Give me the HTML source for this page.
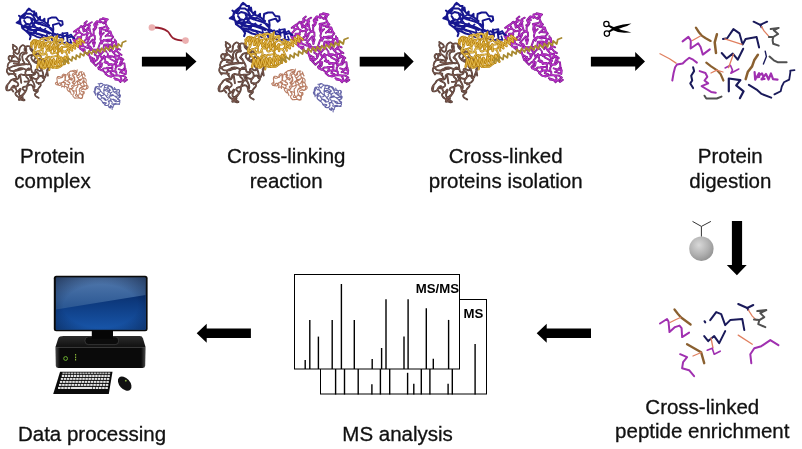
<!DOCTYPE html>
<html><head><meta charset="utf-8"><title>Cross-linking MS workflow</title>
<style>html,body{margin:0;padding:0;background:#fff;}body{width:802px;height:449px;overflow:hidden;font-family:"Liberation Sans",sans-serif;}body{position:relative;}svg{display:block;position:absolute;left:0;top:0;}svg{will-change:transform;}</style>
</head><body>
<svg width="802" height="449" viewBox="0 0 802 449">
<defs>
<g id="mc"><g fill="none" stroke-linejoin="round" stroke-linecap="round">
<path d="M226.3,92.6 C225.6,91.2 223.4,90.1 224.3,88.5 C225.2,86.9 226.6,89.3 229.0,87.7 C231.4,86.2 232.4,86.4 231.5,83.9 C230.7,81.3 226.5,81.8 226.4,80.1 C226.3,78.5 228.9,80.8 231.2,78.9 C233.4,77.1 230.7,76.0 233.1,74.6 C235.4,73.2 234.6,74.7 238.2,74.7 C241.7,74.8 240.0,75.1 243.8,74.7 C247.7,74.3 247.5,75.6 249.8,73.6 C252.0,71.6 248.7,69.9 250.6,68.8 C252.5,67.6 253.5,71.3 255.6,70.2 C257.6,69.2 257.6,68.1 256.7,65.5 C255.9,62.9 255.7,64.4 253.1,62.5 C250.5,60.7 250.0,62.4 249.0,59.9 C248.0,57.4 251.1,57.3 250.1,55.0 C249.1,52.6 248.9,52.4 245.9,52.9 C242.9,53.3 242.1,53.8 241.1,56.3 C240.2,58.9 241.6,57.0 243.1,60.6 C244.6,64.1 246.1,64.2 245.6,67.0 C245.1,69.8 245.2,68.9 241.6,69.1 C238.0,69.2 238.5,67.5 234.7,67.4 C230.9,67.3 233.2,67.7 230.2,68.8 C227.2,69.8 228.5,70.6 225.6,70.4 C222.8,70.2 223.4,70.5 221.7,68.2 C219.9,66.0 219.5,66.9 220.4,63.7 C221.2,60.5 222.6,61.8 224.2,58.6 C225.9,55.4 223.2,54.7 225.4,54.0 C227.6,53.3 228.6,54.0 230.8,56.6 C233.0,59.2 233.2,60.1 232.0,61.9 C230.8,63.7 225.4,61.7 227.1,62.0 C228.8,62.3 234.1,64.1 237.1,62.7 C240.2,61.3 236.6,61.0 236.3,57.8 C236.1,54.5 235.3,55.5 236.5,53.0 C237.7,50.5 239.1,53.3 239.9,50.3 C240.8,47.2 241.0,45.9 239.0,43.9 C237.0,41.9 236.5,41.7 234.0,44.2 C231.5,46.8 234.0,50.6 231.5,51.6 C229.0,52.7 228.3,50.3 226.5,47.4 C224.7,44.5 226.3,44.4 226.2,43.0 M244.3,44.0 C246.0,46.0 246.1,47.0 249.6,50.0 C253.1,53.0 252.2,50.0 254.8,53.0 C257.4,56.0 255.1,56.0 257.4,59.0 C259.7,62.1 259.5,59.3 261.7,62.1 C263.8,64.8 263.7,63.7 263.9,67.3 C264.0,70.8 263.5,69.2 262.1,72.8 C260.6,76.4 261.8,77.1 259.6,78.0 C257.4,79.0 258.4,74.5 255.6,75.7 C252.8,77.0 251.1,79.0 251.1,81.8 C251.2,84.5 254.6,81.9 255.6,84.0 C256.7,86.2 256.3,85.6 254.2,88.2 C252.1,90.8 252.0,92.7 249.3,91.9 C246.7,91.0 249.3,87.4 246.3,85.7 C243.3,84.1 243.7,85.9 240.3,87.0 C237.0,88.0 236.9,87.0 236.3,89.0 C235.7,91.0 238.8,90.4 238.6,93.0 C238.3,95.6 237.6,94.3 235.6,96.7 C233.6,99.1 231.6,98.6 232.5,100.2 C233.4,101.8 239.4,102.9 238.3,101.6 C237.1,100.3 231.2,99.7 229.1,96.4 C226.9,93.1 230.9,93.4 231.9,91.8 M238.4,81.9 C239.9,81.7 239.9,82.4 243.1,81.2 C246.2,80.1 246.3,79.3 247.9,78.3 M228.8,73.8 221.6,73.1 M220.1,85.1 219.4,89.5 M235.9,68.5 C234.2,69.0 233.9,68.6 230.9,69.8 C227.9,71.0 227.2,69.5 226.8,72.3 C226.4,75.0 230.1,75.5 229.6,77.9 C229.1,80.3 227.8,77.9 225.3,79.5 C222.7,81.1 224.2,79.6 222.0,82.7 C219.8,85.7 218.5,85.8 218.5,88.6 C218.6,91.4 219.4,91.9 222.2,91.1 C225.1,90.3 224.4,85.9 227.1,86.2 C229.8,86.5 228.0,90.8 230.3,92.0 C232.6,93.2 233.3,88.5 234.1,89.8 C234.8,91.0 231.8,92.9 232.6,95.9 C233.4,98.9 236.6,97.0 236.5,98.7 C236.4,100.4 231.5,102.9 232.4,101.1 C233.3,99.2 236.3,98.2 239.2,93.2 C242.1,88.2 240.0,90.4 241.2,86.1 C242.5,81.8 243.5,84.0 243.0,80.4 C242.5,76.8 240.6,79.0 239.8,75.3 C239.0,71.6 238.9,71.7 240.7,69.4 C242.4,67.0 242.8,67.2 245.0,68.2 C247.2,69.1 245.0,71.2 247.3,72.2 C249.5,73.3 249.7,69.9 251.7,71.3 C253.8,72.8 254.2,74.1 253.5,76.6 C252.8,79.1 252.7,79.1 249.6,78.8 C246.5,78.5 244.4,73.6 244.2,75.8 C244.0,77.9 247.6,80.5 249.0,85.3 C250.4,90.1 247.1,87.9 248.4,90.1 C249.7,92.2 252.5,89.7 252.9,91.7 C253.3,93.7 249.3,93.4 249.6,96.0 C249.9,98.6 252.4,98.3 253.7,99.4 M253.6,84.4 C255.5,83.1 257.6,83.5 259.3,80.5 C261.0,77.5 259.4,78.7 258.8,75.3 C258.2,71.9 258.8,73.6 257.5,70.2 C256.3,66.8 254.0,67.2 255.0,65.2 C256.1,63.2 257.3,64.2 260.6,64.2 C263.9,64.1 264.6,66.4 265.0,65.0 C265.3,63.5 264.8,62.5 261.7,59.8 C258.6,57.1 259.1,56.8 255.6,56.9 C252.1,57.0 254.1,59.7 251.2,60.2 C248.2,60.7 248.3,60.5 246.8,58.4 C245.3,56.3 245.3,56.0 246.7,54.0 C248.1,52.0 251.4,54.4 251.1,52.4 C250.7,50.5 248.1,51.1 245.6,48.1 C243.1,45.2 245.9,44.2 243.5,43.6 C241.0,43.0 239.1,43.9 238.3,46.4 C237.4,48.9 241.6,49.8 240.9,51.1 C240.1,52.5 238.6,49.4 236.1,50.4 C233.5,51.5 234.2,51.3 233.1,54.4 C232.1,57.4 235.0,57.7 232.9,59.5 C230.9,61.3 230.5,60.0 227.0,59.8 C223.5,59.6 224.0,60.9 222.4,59.0 C220.8,57.2 220.6,55.5 222.2,54.2 C223.7,52.9 225.5,56.7 227.0,55.1 C228.5,53.6 225.6,52.6 226.7,49.6 C227.8,46.5 230.7,48.5 230.4,46.0 C230.1,43.4 227.3,43.3 225.7,42.0 M240.0,57.4 C241.2,59.0 243.9,60.3 243.4,62.3 C242.9,64.2 242.1,62.6 238.6,63.2 C235.1,63.8 236.5,63.4 232.9,64.0 C229.4,64.5 231.2,64.0 228.0,64.8 C224.9,65.6 226.4,65.0 223.5,66.5 C220.5,67.9 219.9,66.6 219.3,69.2 C218.6,71.9 220.7,72.7 221.5,74.4 M233.6,74.6 234.9,83.2 M262.7,69.3 263.7,75.5 " stroke="#4e3a32" stroke-width="1.9"/>
<path d="M226.3,92.6 C225.6,91.2 223.4,90.1 224.3,88.5 C225.2,86.9 226.6,89.3 229.0,87.7 C231.4,86.2 232.4,86.4 231.5,83.9 C230.7,81.3 226.5,81.8 226.4,80.1 C226.3,78.5 228.9,80.8 231.2,78.9 C233.4,77.1 230.7,76.0 233.1,74.6 C235.4,73.2 234.6,74.7 238.2,74.7 C241.7,74.8 240.0,75.1 243.8,74.7 C247.7,74.3 247.5,75.6 249.8,73.6 C252.0,71.6 248.7,69.9 250.6,68.8 C252.5,67.6 253.5,71.3 255.6,70.2 C257.6,69.2 257.6,68.1 256.7,65.5 C255.9,62.9 255.7,64.4 253.1,62.5 C250.5,60.7 250.0,62.4 249.0,59.9 C248.0,57.4 251.1,57.3 250.1,55.0 C249.1,52.6 248.9,52.4 245.9,52.9 C242.9,53.3 242.1,53.8 241.1,56.3 C240.2,58.9 241.6,57.0 243.1,60.6 C244.6,64.1 246.1,64.2 245.6,67.0 C245.1,69.8 245.2,68.9 241.6,69.1 C238.0,69.2 238.5,67.5 234.7,67.4 C230.9,67.3 233.2,67.7 230.2,68.8 C227.2,69.8 228.5,70.6 225.6,70.4 C222.8,70.2 223.4,70.5 221.7,68.2 C219.9,66.0 219.5,66.9 220.4,63.7 C221.2,60.5 222.6,61.8 224.2,58.6 C225.9,55.4 223.2,54.7 225.4,54.0 C227.6,53.3 228.6,54.0 230.8,56.6 C233.0,59.2 233.2,60.1 232.0,61.9 C230.8,63.7 225.4,61.7 227.1,62.0 C228.8,62.3 234.1,64.1 237.1,62.7 C240.2,61.3 236.6,61.0 236.3,57.8 C236.1,54.5 235.3,55.5 236.5,53.0 C237.7,50.5 239.1,53.3 239.9,50.3 C240.8,47.2 241.0,45.9 239.0,43.9 C237.0,41.9 236.5,41.7 234.0,44.2 C231.5,46.8 234.0,50.6 231.5,51.6 C229.0,52.7 228.3,50.3 226.5,47.4 C224.7,44.5 226.3,44.4 226.2,43.0 M244.3,44.0 C246.0,46.0 246.1,47.0 249.6,50.0 C253.1,53.0 252.2,50.0 254.8,53.0 C257.4,56.0 255.1,56.0 257.4,59.0 C259.7,62.1 259.5,59.3 261.7,62.1 C263.8,64.8 263.7,63.7 263.9,67.3 C264.0,70.8 263.5,69.2 262.1,72.8 C260.6,76.4 261.8,77.1 259.6,78.0 C257.4,79.0 258.4,74.5 255.6,75.7 C252.8,77.0 251.1,79.0 251.1,81.8 C251.2,84.5 254.6,81.9 255.6,84.0 C256.7,86.2 256.3,85.6 254.2,88.2 C252.1,90.8 252.0,92.7 249.3,91.9 C246.7,91.0 249.3,87.4 246.3,85.7 C243.3,84.1 243.7,85.9 240.3,87.0 C237.0,88.0 236.9,87.0 236.3,89.0 C235.7,91.0 238.8,90.4 238.6,93.0 C238.3,95.6 237.6,94.3 235.6,96.7 C233.6,99.1 231.6,98.6 232.5,100.2 C233.4,101.8 239.4,102.9 238.3,101.6 C237.1,100.3 231.2,99.7 229.1,96.4 C226.9,93.1 230.9,93.4 231.9,91.8 M238.4,81.9 C239.9,81.7 239.9,82.4 243.1,81.2 C246.2,80.1 246.3,79.3 247.9,78.3 M228.8,73.8 221.6,73.1 M220.1,85.1 219.4,89.5 M235.9,68.5 C234.2,69.0 233.9,68.6 230.9,69.8 C227.9,71.0 227.2,69.5 226.8,72.3 C226.4,75.0 230.1,75.5 229.6,77.9 C229.1,80.3 227.8,77.9 225.3,79.5 C222.7,81.1 224.2,79.6 222.0,82.7 C219.8,85.7 218.5,85.8 218.5,88.6 C218.6,91.4 219.4,91.9 222.2,91.1 C225.1,90.3 224.4,85.9 227.1,86.2 C229.8,86.5 228.0,90.8 230.3,92.0 C232.6,93.2 233.3,88.5 234.1,89.8 C234.8,91.0 231.8,92.9 232.6,95.9 C233.4,98.9 236.6,97.0 236.5,98.7 C236.4,100.4 231.5,102.9 232.4,101.1 C233.3,99.2 236.3,98.2 239.2,93.2 C242.1,88.2 240.0,90.4 241.2,86.1 C242.5,81.8 243.5,84.0 243.0,80.4 C242.5,76.8 240.6,79.0 239.8,75.3 C239.0,71.6 238.9,71.7 240.7,69.4 C242.4,67.0 242.8,67.2 245.0,68.2 C247.2,69.1 245.0,71.2 247.3,72.2 C249.5,73.3 249.7,69.9 251.7,71.3 C253.8,72.8 254.2,74.1 253.5,76.6 C252.8,79.1 252.7,79.1 249.6,78.8 C246.5,78.5 244.4,73.6 244.2,75.8 C244.0,77.9 247.6,80.5 249.0,85.3 C250.4,90.1 247.1,87.9 248.4,90.1 C249.7,92.2 252.5,89.7 252.9,91.7 C253.3,93.7 249.3,93.4 249.6,96.0 C249.9,98.6 252.4,98.3 253.7,99.4 M253.6,84.4 C255.5,83.1 257.6,83.5 259.3,80.5 C261.0,77.5 259.4,78.7 258.8,75.3 C258.2,71.9 258.8,73.6 257.5,70.2 C256.3,66.8 254.0,67.2 255.0,65.2 C256.1,63.2 257.3,64.2 260.6,64.2 C263.9,64.1 264.6,66.4 265.0,65.0 C265.3,63.5 264.8,62.5 261.7,59.8 C258.6,57.1 259.1,56.8 255.6,56.9 C252.1,57.0 254.1,59.7 251.2,60.2 C248.2,60.7 248.3,60.5 246.8,58.4 C245.3,56.3 245.3,56.0 246.7,54.0 C248.1,52.0 251.4,54.4 251.1,52.4 C250.7,50.5 248.1,51.1 245.6,48.1 C243.1,45.2 245.9,44.2 243.5,43.6 C241.0,43.0 239.1,43.9 238.3,46.4 C237.4,48.9 241.6,49.8 240.9,51.1 C240.1,52.5 238.6,49.4 236.1,50.4 C233.5,51.5 234.2,51.3 233.1,54.4 C232.1,57.4 235.0,57.7 232.9,59.5 C230.9,61.3 230.5,60.0 227.0,59.8 C223.5,59.6 224.0,60.9 222.4,59.0 C220.8,57.2 220.6,55.5 222.2,54.2 C223.7,52.9 225.5,56.7 227.0,55.1 C228.5,53.6 225.6,52.6 226.7,49.6 C227.8,46.5 230.7,48.5 230.4,46.0 C230.1,43.4 227.3,43.3 225.7,42.0 M240.0,57.4 C241.2,59.0 243.9,60.3 243.4,62.3 C242.9,64.2 242.1,62.6 238.6,63.2 C235.1,63.8 236.5,63.4 232.9,64.0 C229.4,64.5 231.2,64.0 228.0,64.8 C224.9,65.6 226.4,65.0 223.5,66.5 C220.5,67.9 219.9,66.6 219.3,69.2 C218.6,71.9 220.7,72.7 221.5,74.4 M233.6,74.6 234.9,83.2 M262.7,69.3 263.7,75.5 " stroke="#94685e" stroke-width="0.6"/>
<path d="M341.6,47.3 337.5,45.4 338.2,48.8 334.0,50.0 336.3,52.8 336.5,56.1 333.5,54.6 329.2,54.1 325.8,55.4 322.6,57.3 319.9,60.6 320.3,64.5 317.9,67.0 321.3,69.7 324.1,67.6 329.2,67.4 328.1,71.0 325.7,73.3 328.6,75.6 332.1,76.6 334.5,74.3 331.3,73.2 333.2,69.7 333.5,66.4 333.0,63.1 329.2,63.9 328.2,60.8 324.8,61.1 M331.1,57.4 334.9,59.3 337.7,61.4 336.8,64.7 341.0,64.3 342.4,60.1 345.3,58.0 342.2,55.9 339.4,58.1 341.1,52.3 M330.7,49.1 329.5,45.4 326.5,43.6 329.5,41.6 332.5,43.9 333.8,40.5 332.0,37.4 328.0,38.5 323.9,36.8 322.0,40.8 320.4,35.7 321.5,31.7 321.3,27.9 319.4,24.1 323.7,23.3 326.8,22.0 329.4,24.5 326.1,27.0 331.3,27.5 332.9,32.4 327.6,32.1 M335.9,36.3 337.5,41.9 M327.0,49.7 324.2,46.3 323.3,49.7 321.1,52.3 318.0,50.4 320.2,47.0 316.2,47.3 312.5,47.3 309.2,47.8 309.5,44.1 306.5,42.7 309.1,39.8 312.2,36.3 314.6,39.6 313.2,43.9 M314.2,52.7 318.4,55.3 316.9,58.3 314.1,60.5 313.6,57.1 310.6,60.0 308.5,53.8 303.7,50.2 303.3,46.8 298.8,46.6 297.2,43.6 301.7,43.6 301.0,40.4 298.3,37.5 299.8,34.4 296.2,34.1 294.2,36.8 290.9,35.8 293.8,40.4 M303.4,37.4 306.3,35.6 309.9,32.6 313.2,31.1 313.1,27.0 315.5,24.4 313.6,20.6 317.3,20.3 316.3,16.9 320.7,16.6 323.9,19.0 325.5,16.0 328.5,14.5 323.1,13.3 M311.2,17.7 308.2,19.3 308.5,23.0 309.1,26.5 305.7,25.4 302.3,27.7 301.6,24.4 299.7,21.7 296.8,24.8 293.8,26.4 294.7,30.1 297.6,28.4 302.5,31.4 307.7,29.8 M304.1,21.9 303.2,18.7 305.8,16.6 M337.7,71.5 337.9,75.0 341.3,75.4 343.1,78.6 342.2,82.3 339.9,79.8 335.4,78.2 M343.6,72.4 347.8,73.9 348.2,70.2 344.7,69.2 346.9,66.6 346.4,62.2 M349.3,79.9 346.4,81.9 M325.9,32.8 328.5,30.5 330.6,27.9 332.1,30.8 334.3,33.7 331.9,36.4 328.6,36.6 323.5,37.5 320.1,40.1 318.6,44.3 317.4,48.0 314.0,50.6 311.8,47.9 310.1,44.6 306.9,45.7 303.2,44.1 299.5,42.4 295.9,43.4 299.2,46.5 301.9,48.7 304.5,50.9 307.9,51.1 308.9,54.7 311.8,56.3 314.5,58.9 311.3,60.3 315.5,64.7 318.3,61.9 322.2,62.3 321.6,65.6 318.6,68.4 323.3,70.1 326.1,72.5 329.3,70.6 333.2,70.2 336.8,71.2 336.7,67.7 338.7,64.8 342.2,64.4 344.5,61.8 342.7,57.9 339.9,54.2 336.6,53.3 337.0,57.2 338.5,60.9 334.2,63.6 330.2,62.7 326.3,61.7 325.4,57.2 324.6,53.9 321.9,56.7 320.0,52.3 316.7,56.1 M324.0,49.4 323.8,45.3 324.5,41.8 328.2,41.6 328.4,45.8 331.3,43.2 333.0,39.9 337.2,38.0 338.1,42.1 335.0,43.5 332.1,47.2 334.1,50.5 337.5,47.6 340.0,50.7 343.4,53.1 M332.2,55.2 329.0,55.9 328.3,51.3 M331.9,67.1 327.5,66.9 M328.7,75.7 332.5,76.3 337.4,75.0 342.0,75.6 345.4,75.6 348.3,77.6 344.7,80.8 340.6,80.2 336.5,79.6 M341.6,72.1 344.6,69.8 340.2,68.4 M347.5,67.8 347.9,73.0 M313.7,43.5 312.3,39.9 314.5,36.1 314.3,32.3 310.3,30.6 308.9,26.3 306.2,24.3 309.2,21.2 304.8,20.1 301.9,21.9 303.0,25.2 306.8,29.2 305.2,34.7 308.7,34.8 306.1,39.9 302.1,39.2 298.3,39.2 293.2,38.8 291.8,33.5 295.2,29.6 298.1,28.1 296.2,24.6 291.7,27.9 M295.5,33.7 299.3,33.8 300.9,30.4 M312.7,25.2 316.2,22.8 313.8,19.8 316.7,16.4 320.1,17.9 320.0,14.5 323.3,14.0 327.5,14.7 325.9,19.0 327.4,21.9 328.2,25.3 323.6,25.7 320.3,24.7 319.7,29.4 320.7,32.5 324.2,29.1 " stroke="#801890" stroke-width="2.0"/>
<path d="M341.6,47.3 337.5,45.4 338.2,48.8 334.0,50.0 336.3,52.8 336.5,56.1 333.5,54.6 329.2,54.1 325.8,55.4 322.6,57.3 319.9,60.6 320.3,64.5 317.9,67.0 321.3,69.7 324.1,67.6 329.2,67.4 328.1,71.0 325.7,73.3 328.6,75.6 332.1,76.6 334.5,74.3 331.3,73.2 333.2,69.7 333.5,66.4 333.0,63.1 329.2,63.9 328.2,60.8 324.8,61.1 M331.1,57.4 334.9,59.3 337.7,61.4 336.8,64.7 341.0,64.3 342.4,60.1 345.3,58.0 342.2,55.9 339.4,58.1 341.1,52.3 M330.7,49.1 329.5,45.4 326.5,43.6 329.5,41.6 332.5,43.9 333.8,40.5 332.0,37.4 328.0,38.5 323.9,36.8 322.0,40.8 320.4,35.7 321.5,31.7 321.3,27.9 319.4,24.1 323.7,23.3 326.8,22.0 329.4,24.5 326.1,27.0 331.3,27.5 332.9,32.4 327.6,32.1 M335.9,36.3 337.5,41.9 M327.0,49.7 324.2,46.3 323.3,49.7 321.1,52.3 318.0,50.4 320.2,47.0 316.2,47.3 312.5,47.3 309.2,47.8 309.5,44.1 306.5,42.7 309.1,39.8 312.2,36.3 314.6,39.6 313.2,43.9 M314.2,52.7 318.4,55.3 316.9,58.3 314.1,60.5 313.6,57.1 310.6,60.0 308.5,53.8 303.7,50.2 303.3,46.8 298.8,46.6 297.2,43.6 301.7,43.6 301.0,40.4 298.3,37.5 299.8,34.4 296.2,34.1 294.2,36.8 290.9,35.8 293.8,40.4 M303.4,37.4 306.3,35.6 309.9,32.6 313.2,31.1 313.1,27.0 315.5,24.4 313.6,20.6 317.3,20.3 316.3,16.9 320.7,16.6 323.9,19.0 325.5,16.0 328.5,14.5 323.1,13.3 M311.2,17.7 308.2,19.3 308.5,23.0 309.1,26.5 305.7,25.4 302.3,27.7 301.6,24.4 299.7,21.7 296.8,24.8 293.8,26.4 294.7,30.1 297.6,28.4 302.5,31.4 307.7,29.8 M304.1,21.9 303.2,18.7 305.8,16.6 M337.7,71.5 337.9,75.0 341.3,75.4 343.1,78.6 342.2,82.3 339.9,79.8 335.4,78.2 M343.6,72.4 347.8,73.9 348.2,70.2 344.7,69.2 346.9,66.6 346.4,62.2 M349.3,79.9 346.4,81.9 M325.9,32.8 328.5,30.5 330.6,27.9 332.1,30.8 334.3,33.7 331.9,36.4 328.6,36.6 323.5,37.5 320.1,40.1 318.6,44.3 317.4,48.0 314.0,50.6 311.8,47.9 310.1,44.6 306.9,45.7 303.2,44.1 299.5,42.4 295.9,43.4 299.2,46.5 301.9,48.7 304.5,50.9 307.9,51.1 308.9,54.7 311.8,56.3 314.5,58.9 311.3,60.3 315.5,64.7 318.3,61.9 322.2,62.3 321.6,65.6 318.6,68.4 323.3,70.1 326.1,72.5 329.3,70.6 333.2,70.2 336.8,71.2 336.7,67.7 338.7,64.8 342.2,64.4 344.5,61.8 342.7,57.9 339.9,54.2 336.6,53.3 337.0,57.2 338.5,60.9 334.2,63.6 330.2,62.7 326.3,61.7 325.4,57.2 324.6,53.9 321.9,56.7 320.0,52.3 316.7,56.1 M324.0,49.4 323.8,45.3 324.5,41.8 328.2,41.6 328.4,45.8 331.3,43.2 333.0,39.9 337.2,38.0 338.1,42.1 335.0,43.5 332.1,47.2 334.1,50.5 337.5,47.6 340.0,50.7 343.4,53.1 M332.2,55.2 329.0,55.9 328.3,51.3 M331.9,67.1 327.5,66.9 M328.7,75.7 332.5,76.3 337.4,75.0 342.0,75.6 345.4,75.6 348.3,77.6 344.7,80.8 340.6,80.2 336.5,79.6 M341.6,72.1 344.6,69.8 340.2,68.4 M347.5,67.8 347.9,73.0 M313.7,43.5 312.3,39.9 314.5,36.1 314.3,32.3 310.3,30.6 308.9,26.3 306.2,24.3 309.2,21.2 304.8,20.1 301.9,21.9 303.0,25.2 306.8,29.2 305.2,34.7 308.7,34.8 306.1,39.9 302.1,39.2 298.3,39.2 293.2,38.8 291.8,33.5 295.2,29.6 298.1,28.1 296.2,24.6 291.7,27.9 M295.5,33.7 299.3,33.8 300.9,30.4 M312.7,25.2 316.2,22.8 313.8,19.8 316.7,16.4 320.1,17.9 320.0,14.5 323.3,14.0 327.5,14.7 325.9,19.0 327.4,21.9 328.2,25.3 323.6,25.7 320.3,24.7 319.7,29.4 320.7,32.5 324.2,29.1 " stroke="#c436d4" stroke-width="0.8"/>
<path d="M232.5,18.6 234.0,12.0 237.0,9.5 240.0,7.0 241.5,4.5 244.6,4.0 246.6,6.0 249.1,6.0 248.6,9.0 251.6,11.5 253.1,13.5 255.1,15.0 258.1,16.0 260.1,17.1 263.1,19.6 265.1,21.1 M231.0,18.6 235.0,20.1 236.0,24.1 240.0,27.1 243.1,30.1 245.1,33.1 244.1,36.1 M238.0,14.0 241.0,12.0 245.1,13.0 246.6,17.1 244.1,20.1 240.0,19.1 238.0,16.0 M236.0,23.1 245.1,22.1 253.1,24.1 262.1,27.1 268.1,30.1 269.6,33.1 267.1,34.6 260.1,32.1 253.1,30.1 247.1,29.1 242.1,28.1 M245.1,19.1 250.1,18.1 256.1,20.1 261.1,21.6 267.1,24.1 269.1,27.1 M248.1,26.1 254.1,26.1 260.1,28.1 265.1,30.1 M263.6,19.1 264.1,14.0 268.1,12.5 272.6,12.5 275.2,16.0 279.2,16.5 279.7,20.1 277.7,21.6 275.7,18.6 272.1,19.6 269.1,20.6 269.6,25.1 269.1,30.1 268.1,35.1 M271.1,30.1 274.1,32.1 277.2,31.1 280.2,33.1 283.2,32.1 286.2,34.1 289.2,33.1 292.2,35.1 M279.5,29.5 280.5,36.5 M284.0,31.0 285.0,38.0 M241.5,4.5 243.0,2.8 244.6,4.0 M248.6,9.0 251.0,7.6 251.6,11.5 M253.1,13.5 255.2,11.6 255.1,15.0 M258.1,16.0 260.0,13.8 260.1,17.1 M233.0,16.0 229.8,18.2 233.4,19.4 M234.0,12.0 232.4,10.6 M240.0,27.1 243.0,25.5 247.0,26.5 M243.1,30.1 248.0,31.5 252.0,33.5 258.0,35.0 262.0,37.0 M236.0,24.1 238.5,21.0 242.0,19.6 M233.5,15.0 236.0,10.5 240.0,8.5 245.0,8.5 248.0,11.0 250.0,15.0 249.0,19.0 247.0,22.0 243.0,24.0 238.0,23.0 234.5,20.0 233.5,15.0 M236.5,13.0 239.0,10.2 M247.5,14.5 252.0,17.5 256.0,18.5 M241.0,24.0 246.0,25.5 251.0,27.5" stroke="#16168e" stroke-width="2.0"/>
<path d="M291.1,34.6 288.7,30.9 285.3,32.7 284.9,29.1 279.2,30.0 280.3,34.3 275.9,34.1 274.3,30.3 270.7,31.5 269.0,27.6 266.3,25.1 264.1,22.2 260.4,19.7 256.8,17.7 253.3,19.5 250.3,16.6 253.6,15.0 M246.7,13.3 246.9,19.1 249.8,21.9 252.4,26.0 255.4,23.4 257.7,27.2 261.1,24.5 M262.5,30.6 263.4,34.5 267.1,32.5 268.1,37.0 272.4,38.6 276.4,39.4 280.1,40.4 283.6,39.4 289.1,40.0 287.8,36.3 M258.4,34.3 255.9,31.4 252.1,30.7 248.5,26.3 248.4,30.0 M244.8,24.8 243.9,21.2 " stroke="#1a1a96" stroke-width="1.7"/>
<path d="M275.2,37.2 C276.6,36.7 278.4,34.9 279.4,35.9 C280.5,36.9 279.7,37.8 278.3,40.2 C276.9,42.6 275.8,40.2 275.2,43.0 C274.6,45.8 274.4,46.4 276.6,48.5 C278.8,50.6 279.3,47.9 281.8,49.3 C284.4,50.7 283.1,50.0 284.3,52.8 C285.5,55.5 286.6,56.5 285.4,57.6 C284.1,58.7 282.9,55.4 280.6,56.2 C278.2,56.9 280.6,58.8 278.2,59.8 C275.9,60.7 274.2,60.7 273.4,59.1 C272.5,57.5 276.8,56.5 275.7,55.0 C274.7,53.5 273.4,54.2 270.2,54.7 C267.0,55.1 268.3,54.3 266.3,56.3 C264.2,58.3 265.9,60.1 264.1,60.6 C262.3,61.1 261.5,60.1 260.9,57.8 C260.4,55.5 262.1,56.7 262.5,53.8 C262.8,50.8 260.6,50.8 262.0,48.9 C263.4,47.0 265.8,49.6 266.6,48.2 C267.4,46.7 264.4,47.1 264.5,44.5 C264.6,41.9 265.1,42.8 266.9,40.4 C268.8,37.9 269.8,39.5 270.0,37.2 C270.2,34.9 269.5,33.7 267.4,33.5 C265.4,33.4 266.5,36.3 263.8,36.7 C261.2,37.1 261.2,33.5 259.5,34.8 C257.7,36.0 260.5,39.2 258.6,40.5 C256.7,41.8 256.8,39.9 253.8,38.7 C250.8,37.5 252.0,36.4 249.6,36.8 C247.2,37.2 246.1,38.4 246.5,39.9 C246.8,41.5 249.6,39.5 250.6,41.5 C251.6,43.5 250.0,42.7 249.5,45.9 C249.1,49.1 248.1,50.0 249.2,51.1 C250.4,52.1 250.7,48.5 253.0,49.0 C255.4,49.6 254.6,53.2 256.3,52.7 C257.9,52.3 258.4,50.6 258.0,47.8 C257.5,45.0 255.9,45.5 254.9,44.4 M250.8,55.1 C251.8,56.5 252.5,56.5 253.7,59.4 C254.8,62.4 252.9,63.3 254.2,63.8 C255.5,64.3 256.2,59.8 257.6,61.0 C258.9,62.2 256.2,65.9 258.3,67.4 C260.3,68.9 260.3,67.2 263.7,65.5 C267.2,63.8 267.2,61.9 268.6,62.2 C270.1,62.6 266.9,65.5 268.1,66.7 C269.3,67.9 269.5,66.6 272.3,65.8 C275.1,65.0 273.4,65.4 276.5,64.4 C279.6,63.4 280.0,63.3 281.7,62.7 M270.6,50.0 C270.6,47.5 270.0,48.0 270.6,42.5 C271.2,36.9 271.9,36.4 272.5,33.4 M283.5,39.5 C284.4,40.6 287.3,41.1 286.4,42.8 C285.4,44.5 282.6,44.0 280.7,44.6 M283.7,55.0 C282.1,55.7 281.5,57.4 278.8,57.2 C276.0,57.0 277.6,56.6 275.5,54.3 C273.4,52.1 275.0,51.5 272.5,50.5 C269.9,49.6 269.3,52.5 267.8,51.4 C266.2,50.3 266.3,49.4 267.8,47.2 C269.3,45.0 271.6,46.8 272.2,44.9 C272.8,43.1 268.6,43.5 269.5,41.6 C270.5,39.7 272.2,41.0 275.1,39.2 C278.0,37.4 276.5,35.5 278.2,36.1 C279.9,36.7 277.7,38.6 280.2,41.0 C282.6,43.3 284.2,41.0 285.6,43.2 C287.1,45.4 286.3,45.5 284.5,47.5 C282.7,49.6 282.8,49.5 280.1,49.3 C277.4,49.0 277.6,47.6 276.4,46.8 M272.7,35.4 C270.6,34.8 270.2,33.8 266.4,33.7 C262.6,33.6 264.9,34.2 261.3,35.1 C257.7,36.0 257.5,33.8 255.6,36.4 C253.7,39.0 254.8,39.6 255.6,43.0 C256.3,46.4 258.3,44.5 257.9,46.6 C257.5,48.6 254.2,47.2 254.4,49.2 C254.6,51.2 256.0,52.5 258.4,52.6 C260.9,52.8 260.0,52.4 261.7,49.7 C263.4,46.9 264.0,47.2 263.5,44.5 C263.1,41.8 259.5,43.5 260.4,41.5 C261.2,39.5 264.2,39.5 266.1,38.5 M250.7,38.5 C250.7,40.8 251.5,41.5 250.7,45.2 C249.8,48.8 248.4,46.7 248.1,49.5 C247.8,52.4 247.8,52.3 249.8,53.8 C251.8,55.3 251.7,52.9 254.2,54.0 C256.7,55.1 254.8,55.9 257.3,57.1 C259.7,58.3 258.8,58.2 261.5,57.5 C264.2,56.9 264.3,54.1 265.4,55.2 C266.5,56.3 266.1,58.0 264.8,60.9 C263.6,63.8 263.8,61.9 261.6,64.0 C259.3,66.1 259.5,68.0 258.0,67.2 C256.5,66.5 258.7,64.6 257.0,61.7 C255.4,58.7 254.4,59.5 253.1,58.4 M246.3,44.8 245.3,39.7 M268.9,58.5 C269.7,60.0 269.3,62.3 271.4,62.8 C273.5,63.3 271.8,60.8 275.2,60.1 C278.6,59.4 280.5,59.3 281.6,60.8 C282.7,62.3 281.3,62.5 278.5,64.6 C275.8,66.7 277.1,66.8 273.3,67.1 C269.5,67.4 269.9,64.8 267.2,65.6 C264.5,66.3 265.9,68.1 265.2,69.4 " stroke="#b07c14" stroke-width="2.0"/>
<path d="M275.2,37.2 C276.6,36.7 278.4,34.9 279.4,35.9 C280.5,36.9 279.7,37.8 278.3,40.2 C276.9,42.6 275.8,40.2 275.2,43.0 C274.6,45.8 274.4,46.4 276.6,48.5 C278.8,50.6 279.3,47.9 281.8,49.3 C284.4,50.7 283.1,50.0 284.3,52.8 C285.5,55.5 286.6,56.5 285.4,57.6 C284.1,58.7 282.9,55.4 280.6,56.2 C278.2,56.9 280.6,58.8 278.2,59.8 C275.9,60.7 274.2,60.7 273.4,59.1 C272.5,57.5 276.8,56.5 275.7,55.0 C274.7,53.5 273.4,54.2 270.2,54.7 C267.0,55.1 268.3,54.3 266.3,56.3 C264.2,58.3 265.9,60.1 264.1,60.6 C262.3,61.1 261.5,60.1 260.9,57.8 C260.4,55.5 262.1,56.7 262.5,53.8 C262.8,50.8 260.6,50.8 262.0,48.9 C263.4,47.0 265.8,49.6 266.6,48.2 C267.4,46.7 264.4,47.1 264.5,44.5 C264.6,41.9 265.1,42.8 266.9,40.4 C268.8,37.9 269.8,39.5 270.0,37.2 C270.2,34.9 269.5,33.7 267.4,33.5 C265.4,33.4 266.5,36.3 263.8,36.7 C261.2,37.1 261.2,33.5 259.5,34.8 C257.7,36.0 260.5,39.2 258.6,40.5 C256.7,41.8 256.8,39.9 253.8,38.7 C250.8,37.5 252.0,36.4 249.6,36.8 C247.2,37.2 246.1,38.4 246.5,39.9 C246.8,41.5 249.6,39.5 250.6,41.5 C251.6,43.5 250.0,42.7 249.5,45.9 C249.1,49.1 248.1,50.0 249.2,51.1 C250.4,52.1 250.7,48.5 253.0,49.0 C255.4,49.6 254.6,53.2 256.3,52.7 C257.9,52.3 258.4,50.6 258.0,47.8 C257.5,45.0 255.9,45.5 254.9,44.4 M250.8,55.1 C251.8,56.5 252.5,56.5 253.7,59.4 C254.8,62.4 252.9,63.3 254.2,63.8 C255.5,64.3 256.2,59.8 257.6,61.0 C258.9,62.2 256.2,65.9 258.3,67.4 C260.3,68.9 260.3,67.2 263.7,65.5 C267.2,63.8 267.2,61.9 268.6,62.2 C270.1,62.6 266.9,65.5 268.1,66.7 C269.3,67.9 269.5,66.6 272.3,65.8 C275.1,65.0 273.4,65.4 276.5,64.4 C279.6,63.4 280.0,63.3 281.7,62.7 M270.6,50.0 C270.6,47.5 270.0,48.0 270.6,42.5 C271.2,36.9 271.9,36.4 272.5,33.4 M283.5,39.5 C284.4,40.6 287.3,41.1 286.4,42.8 C285.4,44.5 282.6,44.0 280.7,44.6 M283.7,55.0 C282.1,55.7 281.5,57.4 278.8,57.2 C276.0,57.0 277.6,56.6 275.5,54.3 C273.4,52.1 275.0,51.5 272.5,50.5 C269.9,49.6 269.3,52.5 267.8,51.4 C266.2,50.3 266.3,49.4 267.8,47.2 C269.3,45.0 271.6,46.8 272.2,44.9 C272.8,43.1 268.6,43.5 269.5,41.6 C270.5,39.7 272.2,41.0 275.1,39.2 C278.0,37.4 276.5,35.5 278.2,36.1 C279.9,36.7 277.7,38.6 280.2,41.0 C282.6,43.3 284.2,41.0 285.6,43.2 C287.1,45.4 286.3,45.5 284.5,47.5 C282.7,49.6 282.8,49.5 280.1,49.3 C277.4,49.0 277.6,47.6 276.4,46.8 M272.7,35.4 C270.6,34.8 270.2,33.8 266.4,33.7 C262.6,33.6 264.9,34.2 261.3,35.1 C257.7,36.0 257.5,33.8 255.6,36.4 C253.7,39.0 254.8,39.6 255.6,43.0 C256.3,46.4 258.3,44.5 257.9,46.6 C257.5,48.6 254.2,47.2 254.4,49.2 C254.6,51.2 256.0,52.5 258.4,52.6 C260.9,52.8 260.0,52.4 261.7,49.7 C263.4,46.9 264.0,47.2 263.5,44.5 C263.1,41.8 259.5,43.5 260.4,41.5 C261.2,39.5 264.2,39.5 266.1,38.5 M250.7,38.5 C250.7,40.8 251.5,41.5 250.7,45.2 C249.8,48.8 248.4,46.7 248.1,49.5 C247.8,52.4 247.8,52.3 249.8,53.8 C251.8,55.3 251.7,52.9 254.2,54.0 C256.7,55.1 254.8,55.9 257.3,57.1 C259.7,58.3 258.8,58.2 261.5,57.5 C264.2,56.9 264.3,54.1 265.4,55.2 C266.5,56.3 266.1,58.0 264.8,60.9 C263.6,63.8 263.8,61.9 261.6,64.0 C259.3,66.1 259.5,68.0 258.0,67.2 C256.5,66.5 258.7,64.6 257.0,61.7 C255.4,58.7 254.4,59.5 253.1,58.4 M246.3,44.8 245.3,39.7 M268.9,58.5 C269.7,60.0 269.3,62.3 271.4,62.8 C273.5,63.3 271.8,60.8 275.2,60.1 C278.6,59.4 280.5,59.3 281.6,60.8 C282.7,62.3 281.3,62.5 278.5,64.6 C275.8,66.7 277.1,66.8 273.3,67.1 C269.5,67.4 269.9,64.8 267.2,65.6 C264.5,66.3 265.9,68.1 265.2,69.4 " stroke="#eccb5c" stroke-width="0.9"/>
<path d="M245.4,43.1 248.7,37.3 249.7,44.0 253.0,38.1 254.0,44.8 257.3,38.9 258.3,45.6 261.6,39.7 262.3,46.4 266.1,40.8 266.5,47.6 270.3,42.0 270.7,48.7 274.5,43.2 274.9,49.9 278.8,44.3 279.1,51.1" stroke="#b8820f" stroke-width="2.4"/><path d="M245.4,43.1 248.7,37.3 249.7,44.0 253.0,38.1 254.0,44.8 257.3,38.9 258.3,45.6 261.6,39.7 262.3,46.4 266.1,40.8 266.5,47.6 270.3,42.0 270.7,48.7 274.5,43.2 274.9,49.9 278.8,44.3 279.1,51.1" stroke="#eec860" stroke-width="0.8"/>
<path d="M252.2,66.8 253.9,59.1 256.4,66.5 258.0,58.8 260.6,66.3 262.2,58.6 264.8,66.0 266.4,58.3 269.6,65.5 269.9,57.7 273.6,64.6 273.9,56.7 277.7,63.6 278.0,55.7 281.8,62.7 282.1,54.8 285.9,61.7" stroke="#b8820f" stroke-width="2.6"/><path d="M252.2,66.8 253.9,59.1 256.4,66.5 258.0,58.8 260.6,66.3 262.2,58.6 264.8,66.0 266.4,58.3 269.6,65.5 269.9,57.7 273.6,64.6 273.9,56.7 277.7,63.6 278.0,55.7 281.8,62.7 282.1,54.8 285.9,61.7" stroke="#eec860" stroke-width="0.8"/>
<path d="M286.7,50.5 284.9,44.4 289.9,48.3 288.1,42.2 293.1,46.1 291.3,40.0 296.3,43.9 294.5,37.8 299.5,41.7 297.7,35.6 302.7,39.5" stroke="#b8820f" stroke-width="2.4"/><path d="M286.7,50.5 284.9,44.4 289.9,48.3 288.1,42.2 293.1,46.1 291.3,40.0 296.3,43.9 294.5,37.8 299.5,41.7 297.7,35.6 302.7,39.5" stroke="#eec860" stroke-width="0.8"/>
<path d="M280.7,62.9 281.5,58.3 285.1,61.2 285.8,56.6 289.5,59.5 290.2,54.9 293.9,57.8 294.4,53.1 298.2,55.9 298.7,51.3 302.5,54.0 303.5,49.3 306.5,52.8 308.1,48.5 311.1,52.0 312.7,47.6 315.8,51.1 317.2,46.6 320.4,50.0 321.8,45.6 324.9,49.0 326.3,44.6 329.5,47.9 330.9,43.5 334.1,46.8 335.4,42.4 338.8,45.5 339.7,41.0 343.2,44.0 344.2,39.5 L348,38" stroke="#a88a30" stroke-width="1.8"/>
<path d="M274,32 L273,40 L275,47 L274,55" stroke="#c09020" stroke-width="1.8"/>
</g></g>
<g id="sd"><g fill="none" stroke-linejoin="round" stroke-linecap="round">
<path d="M292.7,99.8 C292.0,98.8 290.8,98.6 290.6,96.7 C290.4,94.9 292.0,95.7 292.1,94.1 C292.1,92.4 290.1,92.5 290.8,91.8 C291.5,91.0 293.1,92.8 294.2,91.9 C295.3,91.1 293.5,90.7 294.1,89.2 C294.6,87.7 295.2,88.9 295.8,87.4 C296.5,85.8 296.0,86.3 296.0,84.5 C296.0,82.7 295.0,82.4 295.8,81.9 C296.6,81.3 297.2,81.5 298.4,82.9 C299.5,84.2 297.9,84.8 299.4,86.0 C300.8,87.1 301.8,87.0 302.8,86.2 C303.7,85.5 302.2,85.7 302.2,83.7 C302.1,81.6 302.9,82.2 302.7,80.1 C302.4,78.1 302.3,77.8 301.4,77.6 C300.4,77.4 301.5,79.2 299.8,79.6 C298.2,79.9 296.9,79.7 296.4,78.6 C296.0,77.5 297.1,77.8 298.4,76.3 C299.7,74.9 300.0,75.7 300.2,74.1 C300.4,72.5 300.1,71.9 299.0,71.5 C297.9,71.2 298.0,71.7 297.0,73.0 C296.0,74.4 297.0,75.2 295.9,75.5 C294.8,75.8 295.1,74.0 293.6,73.9 C292.1,73.8 291.8,73.6 291.4,75.2 C291.1,76.7 292.2,76.5 292.6,78.6 C292.9,80.7 293.1,79.9 292.4,81.5 C291.7,83.1 290.4,82.2 290.4,83.4 C290.4,84.7 292.7,84.1 292.3,85.2 C292.0,86.3 289.8,85.4 289.3,86.7 C288.8,88.0 291.5,88.3 290.9,89.0 C290.2,89.8 289.6,89.0 287.4,89.0 C285.3,88.9 285.2,88.0 284.5,88.8 C283.7,89.6 284.3,89.9 285.2,91.3 C286.1,92.7 286.5,92.4 287.1,93.0 M281.4,88.5 C281.4,87.6 281.1,87.5 281.5,85.7 C281.9,83.9 283.1,84.3 282.6,83.0 C282.1,81.8 280.0,83.0 280.0,82.1 C279.9,81.1 281.7,81.8 282.4,80.2 C283.1,78.7 282.4,79.4 282.1,77.3 C281.9,75.2 282.6,74.8 281.6,74.1 C280.6,73.3 280.0,73.8 279.1,75.0 C278.3,76.1 280.3,77.0 279.1,77.5 C278.0,77.9 277.5,76.2 275.6,76.3 C273.8,76.4 274.2,75.9 273.5,77.8 C272.9,79.6 274.2,79.9 273.6,81.9 C273.0,83.9 271.5,82.6 271.8,83.8 C272.1,85.1 273.0,85.7 274.5,85.6 C275.9,85.4 274.8,83.8 276.2,83.4 C277.6,83.1 278.0,83.1 278.7,84.6 C279.5,86.0 278.6,86.7 278.5,87.8 M285.0,85.4 C285.9,84.9 287.6,85.2 287.7,83.9 C287.8,82.6 285.4,82.9 285.1,81.5 C284.8,80.0 285.6,80.8 286.8,79.5 C288.0,78.2 287.8,77.3 288.7,77.6 C289.7,77.8 290.5,80.5 289.6,80.3 C288.7,80.1 286.6,78.7 286.0,76.9 C285.3,75.0 288.2,75.8 287.7,74.9 C287.2,73.9 284.5,75.4 284.4,74.1 C284.4,72.9 285.6,72.2 287.6,71.1 C289.5,69.9 288.1,70.6 290.4,70.7 C292.7,70.8 292.7,72.0 294.4,71.4 C296.0,70.9 295.0,69.9 295.3,69.1 M302.4,72.0 303.9,76.0 M304.8,82.8 C305.1,84.0 306.0,83.8 305.8,86.4 C305.5,88.9 305.8,89.6 304.2,90.4 C302.6,91.2 303.1,88.9 301.0,88.7 C298.9,88.5 298.8,88.3 297.9,89.8 C297.0,91.4 297.6,91.4 298.2,93.3 C298.8,95.2 298.2,95.0 299.7,95.5 C301.2,96.1 301.9,96.0 302.7,95.0 C303.5,94.0 302.5,91.7 302.0,92.6 C301.5,93.5 301.9,95.2 301.3,97.7 C300.7,100.1 301.6,99.6 300.2,100.0 C298.9,100.4 298.9,100.2 297.2,98.8 C295.5,97.4 295.8,96.8 295.1,95.7 M294.2,89.0 C294.2,89.9 294.2,89.8 294.3,91.6 C294.4,93.4 294.8,92.5 294.5,94.4 C294.3,96.2 292.9,96.3 293.5,97.1 C294.1,98.0 294.9,97.7 296.4,97.0 C297.9,96.3 296.5,94.9 298.0,95.1 C299.6,95.3 300.5,96.0 301.1,97.6 C301.6,99.2 301.0,99.2 299.6,99.8 C298.2,100.4 299.1,99.5 297.0,99.5 C294.8,99.4 294.5,99.6 293.2,99.7 M289.0,95.7 C288.7,94.7 288.5,94.5 287.9,92.7 C287.3,90.8 286.5,90.7 287.3,90.1 C288.0,89.5 288.6,89.8 290.1,90.9 C291.6,92.1 291.2,92.7 291.7,93.6 M291.2,87.3 C292.1,86.8 292.0,86.7 294.0,85.9 C295.9,85.2 294.9,85.8 297.0,85.0 C299.1,84.2 298.5,84.9 300.3,83.5 C302.0,82.0 301.0,80.8 302.3,80.7 C303.5,80.5 303.0,83.0 303.9,83.0 C304.9,82.9 305.2,82.1 305.1,80.5 C305.1,79.0 305.1,79.7 303.8,78.4 C302.5,77.1 301.9,78.3 301.2,76.7 C300.5,75.2 300.8,74.1 301.7,73.7 C302.7,73.3 303.3,75.0 304.1,75.6 M300.9,71.1 C299.8,71.3 298.7,70.6 297.6,71.8 C296.5,73.0 298.4,73.3 297.5,74.6 C296.6,75.9 295.4,74.5 295.0,75.7 C294.6,76.9 295.3,76.6 296.2,78.2 C297.2,79.9 296.6,80.4 297.8,80.7 C298.9,81.0 300.6,78.9 299.7,79.1 C298.8,79.3 297.3,79.9 295.0,81.4 C292.8,82.8 294.8,83.0 293.0,83.5 C291.3,84.1 290.3,83.9 289.9,82.9 C289.5,82.0 291.0,82.8 291.8,80.8 C292.6,78.7 293.2,77.3 292.4,76.9 C291.6,76.4 291.1,79.1 289.4,79.4 C287.7,79.7 288.1,79.2 287.3,77.7 C286.5,76.1 287.2,76.8 287.1,74.9 C286.9,72.9 285.9,73.3 286.8,71.7 C287.7,70.2 287.5,70.8 289.7,70.2 C291.9,69.5 291.7,69.1 293.4,69.8 C295.0,70.6 295.4,71.4 294.6,72.4 C293.8,73.5 292.5,71.6 291.0,72.9 C289.4,74.1 290.3,75.1 290.0,76.1 M287.1,82.6 C286.3,82.2 286.3,82.2 284.7,81.3 C283.0,80.4 282.7,81.3 282.1,79.9 C281.5,78.5 282.6,79.0 282.8,77.1 C282.9,75.1 283.9,74.2 282.6,74.1 C281.4,74.1 281.1,75.4 279.0,76.8 C276.8,78.2 277.9,78.1 276.1,78.3 C274.3,78.6 274.3,76.3 273.6,77.6 C272.9,78.8 273.7,79.7 273.9,82.1 C274.2,84.5 273.3,83.6 274.4,84.8 C275.5,86.1 276.0,86.3 277.2,85.8 C278.4,85.3 276.8,84.4 277.9,83.4 C279.0,82.4 278.9,82.4 280.5,82.8 C282.2,83.1 281.1,83.6 282.8,84.4 C284.6,85.2 285.1,84.0 285.8,85.2 C286.5,86.4 286.1,87.5 285.0,88.1 C283.9,88.6 284.2,87.2 282.4,86.9 C280.6,86.6 280.5,87.1 279.6,87.2 M298.0,89.2 C298.8,88.7 298.6,88.3 300.2,87.6 C301.9,86.8 301.2,87.7 303.0,87.1 C304.9,86.5 304.4,85.5 305.7,85.8 C307.1,86.1 307.4,86.7 307.2,88.0 C306.9,89.4 306.7,89.3 304.9,89.9 C303.2,90.6 303.7,89.3 301.9,90.0 C300.1,90.6 299.1,90.8 299.5,91.9 C299.8,92.9 301.8,92.7 303.0,93.1 " stroke="#b87c62" stroke-width="1.1"/>
<path d="M328.7,95.7 C328.2,96.5 327.0,96.7 327.1,98.1 C327.2,99.5 329.0,98.6 329.0,99.9 C328.9,101.2 328.1,102.0 326.9,102.0 C325.6,102.1 326.7,101.0 325.2,100.1 C323.6,99.2 324.1,99.1 322.3,99.4 C320.5,99.7 321.5,101.5 319.8,101.1 C318.2,100.6 317.9,100.1 317.3,98.2 C316.6,96.2 317.0,96.9 317.9,95.2 C318.7,93.5 319.1,94.6 319.8,93.1 C320.5,91.5 320.9,91.7 320.1,90.5 C319.2,89.3 318.7,90.6 317.3,89.5 C315.8,88.3 316.8,87.0 315.8,87.1 C314.8,87.1 314.7,87.6 314.3,89.6 C314.0,91.7 314.5,90.9 314.8,93.2 C315.0,95.5 315.0,95.5 315.1,96.6 M320.6,97.1 C321.8,96.8 322.8,97.4 324.0,96.2 C325.3,95.0 324.2,95.6 324.3,93.6 C324.4,91.7 323.3,90.7 324.3,90.3 C325.3,89.9 325.4,92.2 327.4,92.3 C329.5,92.5 330.2,91.8 330.4,90.7 C330.7,89.6 330.1,90.1 328.2,89.1 C326.4,88.1 325.2,88.8 324.9,87.6 C324.7,86.5 325.4,85.6 327.6,85.6 C329.8,85.5 329.4,85.8 331.5,87.4 C333.5,89.1 332.6,88.7 333.8,90.5 C335.0,92.4 333.7,91.9 335.1,93.1 C336.5,94.3 336.0,94.1 338.0,94.1 C340.0,94.2 340.4,94.4 341.1,93.1 C341.8,91.9 341.5,91.2 340.2,90.4 C338.9,89.7 338.6,91.6 337.1,90.8 C335.6,90.1 336.2,89.1 335.7,88.2 M331.8,93.6 C331.5,94.9 330.4,96.8 331.0,97.5 C331.5,98.3 331.9,95.9 333.4,95.9 C335.0,95.8 333.8,96.9 335.7,97.4 C337.5,97.9 337.1,97.9 339.0,97.4 C340.9,96.9 340.4,95.5 341.3,95.9 C342.2,96.2 342.5,97.0 341.7,98.4 C341.0,99.9 339.3,98.9 339.0,100.2 C338.7,101.5 340.0,100.7 340.8,102.3 C341.6,103.9 341.9,103.7 341.3,105.0 C340.7,106.3 340.7,105.9 338.9,106.0 C337.2,106.2 338.1,105.3 336.1,105.4 C334.2,105.4 334.1,106.8 333.0,106.2 C332.0,105.7 334.0,104.9 333.0,103.7 C332.1,102.5 331.4,101.9 330.2,102.7 C329.0,103.6 330.5,104.7 329.5,106.3 C328.4,107.9 328.6,107.6 327.1,107.6 C325.5,107.7 324.9,107.3 324.8,106.4 C324.7,105.5 327.3,105.5 326.8,104.8 C326.2,104.1 324.3,104.4 323.1,104.3 M329.5,109.4 C330.5,109.3 331.4,108.2 332.6,109.0 C333.8,109.8 332.9,111.0 333.1,111.9 M337.8,102.4 C336.9,102.0 336.7,101.9 334.9,101.3 C333.2,100.8 333.3,100.9 332.5,100.7 M321.2,88.1 C320.5,87.3 319.2,87.0 319.1,85.5 C319.0,84.0 319.5,83.9 320.8,83.6 C322.2,83.3 322.4,84.3 323.2,84.6 M334.4,100.8 C334.9,101.6 334.4,102.2 336.1,103.1 C337.7,104.0 337.3,103.6 339.2,103.4 C341.0,103.3 341.4,103.6 341.6,102.7 C341.9,101.8 341.3,102.1 340.0,100.8 C338.6,99.5 339.2,100.0 337.5,98.8 C335.8,97.5 336.6,97.5 334.9,97.0 C333.2,96.5 334.1,97.0 332.4,97.3 C330.6,97.5 330.3,96.8 329.8,97.7 C329.3,98.6 330.2,98.4 330.9,100.0 C331.5,101.6 332.3,101.4 331.7,102.4 C331.1,103.3 329.7,101.8 329.1,102.8 C328.5,103.8 330.1,103.7 330.0,105.4 C329.9,107.0 328.5,106.1 328.9,107.7 C329.4,109.4 330.4,110.4 331.3,110.4 C332.1,110.4 330.6,107.9 331.5,107.7 C332.4,107.5 332.8,109.8 333.9,109.7 C335.0,109.5 333.6,108.4 334.7,107.3 C335.8,106.2 335.1,106.6 337.2,106.4 C339.3,106.1 339.8,106.5 341.1,106.5 M325.9,102.2 C325.3,101.5 325.5,101.7 323.9,100.3 C322.4,99.0 322.7,99.6 321.3,98.1 C320.0,96.6 321.3,95.9 319.8,95.8 C318.4,95.8 317.2,96.3 317.1,97.9 C316.9,99.5 317.9,98.9 319.5,100.5 C321.1,102.1 320.6,101.1 321.9,102.7 C323.2,104.2 322.1,104.0 323.4,105.2 C324.6,106.4 325.0,105.9 325.8,106.2 M327.3,98.8 C326.7,98.0 327.0,97.7 325.5,96.2 C324.1,94.8 324.7,95.9 323.1,94.5 C321.5,93.1 322.1,93.7 320.8,92.2 C319.5,90.6 320.0,91.4 319.2,89.8 C318.4,88.2 319.6,87.9 318.3,87.3 C317.1,86.7 316.6,86.8 315.6,88.0 C314.5,89.2 315.9,89.3 315.2,90.9 C314.5,92.5 313.1,91.3 313.4,92.8 C313.7,94.2 314.5,95.2 316.0,95.3 C317.6,95.4 317.4,93.8 318.1,93.1 M321.4,87.4 C322.1,86.7 321.9,86.2 323.4,85.5 C324.8,84.8 324.2,85.3 325.9,85.4 C327.6,85.5 327.6,84.8 328.5,85.8 C329.3,86.7 327.7,88.1 328.5,88.3 C329.3,88.6 329.3,86.7 330.9,86.5 C332.4,86.3 331.9,86.5 333.2,87.7 C334.5,88.8 333.3,89.2 334.7,90.0 C336.1,90.9 336.2,89.3 337.4,90.2 C338.6,91.0 338.9,91.6 338.4,92.5 C337.9,93.4 336.2,92.0 335.9,92.8 C335.6,93.6 336.2,93.7 337.5,94.9 C338.8,96.1 338.5,95.2 339.8,96.4 C341.2,97.7 341.3,99.5 341.6,98.7 C341.9,97.9 341.0,96.6 340.8,94.0 C340.6,91.4 340.9,91.9 341.0,90.8 M333.2,92.9 C332.4,93.3 332.2,94.4 330.8,94.1 C329.5,93.8 330.3,93.2 329.1,92.0 C327.8,90.7 328.6,90.6 327.1,90.4 C325.6,90.1 325.4,91.9 324.5,91.2 C323.7,90.5 324.6,89.3 324.6,88.3 M320.9,84.1 317.9,84.2 M328.0,94.7 331.5,90.9 " stroke="#6464a8" stroke-width="1.1"/>
</g></g>
</defs>
<g transform="translate(-196.0,5.9) scale(0.925)"><use href="#mc"/><use href="#sd"/></g>
<use href="#mc"/><use href="#sd"/>
<g transform="translate(213.5,0)"><use href="#mc"/></g>
<path d="M154,27.5 C160,27.5 164,28.6 167.4,31.2 C170,33.5 170.5,36 173,38 C176,40 180,40.6 184,40.6" stroke="#961e2e" stroke-width="1.8" fill="none"/>
<circle cx="151.9" cy="27.5" r="3.3" fill="#ebb0b0"/>
<circle cx="185.5" cy="40.6" r="3.3" fill="#ebb0b0"/>
<path d="M141.9,56.800000000000004 L185.9,56.800000000000004 L185.9,52.1 L196.5,61.6 L185.9,71.1 L185.9,66.4 L141.9,66.4 Z" fill="#000"/>
<path d="M359.7,56.800000000000004 L404.2,56.800000000000004 L404.2,52.1 L413.7,61.6 L404.2,71.1 L404.2,66.4 L359.7,66.4 Z" fill="#000"/>
<path d="M590.9,56.800000000000004 L635.2,56.800000000000004 L635.2,52.1 L645,61.6 L635.2,71.1 L635.2,66.4 L590.9,66.4 Z" fill="#000"/>
<g stroke="#000" fill="none">
<circle cx="606.4" cy="23.9" r="2.65" stroke-width="1.25"/>
<circle cx="606.9" cy="33.6" r="2.65" stroke-width="1.25"/>
</g>
<path d="M608.3,31.0 L611.5,29.0 L614,27.0 L617,25.9 L623,24.6 L631.4,23.6 L627.1,26.0 L623,27.3 L617,29.4 L613,30.6 L609.3,32.4 Z" fill="#000"/>
<path d="M608.3,26.4 L609.3,25.0 L613,26.8 L617,28.0 L621.5,30.0 L627.1,31.3 L631.4,32.6 L624.1,32.7 L617.9,31.9 L614,30.6 L611.5,28.4 Z" fill="#000"/>
<path d="M695.9,27.6 699.1,32.5 701.7,35.6 705.7,38.3 710.6,40.9" stroke="#8a6030" stroke-width="2.3" fill="none" stroke-linejoin="round" stroke-linecap="round"/>
<path d="M692.4,40.5 696.4,38.3 700.4,36.0" stroke="#e08060" stroke-width="1.3" fill="none" stroke-linejoin="round" stroke-linecap="round"/>
<path d="M682.6,41.4 688.4,36.9 690.8,40.5 690.6,48.5 698.2,43.2 700.6,47.0 702.8,54.6 709.8,49.4" stroke="#a030b0" stroke-width="2" fill="none" stroke-linejoin="round" stroke-linecap="round"/>
<path d="M716.9,34.3 714.7,42.3 716.0,53.0" stroke="#8a6030" stroke-width="2.5" fill="none" stroke-linejoin="round" stroke-linecap="round"/>
<path d="M660.0,53.7 669.5,58.8 676.1,63.1" stroke="#e08060" stroke-width="1.3" fill="none" stroke-linejoin="round" stroke-linecap="round"/>
<path d="M672.3,80.5 673.6,73.0 675.1,67.3 677.0,64.5 682.7,63.5 685.5,60.7 689.3,57.8 693.1,59.7 696.9,62.6" stroke="#a030b0" stroke-width="2" fill="none" stroke-linejoin="round" stroke-linecap="round"/>
<path d="M693.1,67.3 694.1,71.1 691.2,75.8 692.2,80.5 690.3,83.4 693.1,88.1" stroke="#1a1a5a" stroke-width="2" fill="none" stroke-linejoin="round" stroke-linecap="round"/>
<path d="M706.3,62.6 711.1,66.3 716.8,70.1 720.5,73.9 723.4,80.5" stroke="#8a6030" stroke-width="2.2" fill="none" stroke-linejoin="round" stroke-linecap="round"/>
<path d="M711.0,73.0 716.8,70.1 723.0,72.0" stroke="#e08060" stroke-width="1.3" fill="none" stroke-linejoin="round" stroke-linecap="round"/>
<path d="M699.7,71.1 705.4,73.0 707.3,76.8 704.5,80.5 708.2,83.4 701.6,86.2 706.3,89.0 711.1,91.9 715.8,92.8" stroke="#a030b0" stroke-width="2" fill="none" stroke-linejoin="round" stroke-linecap="round"/>
<path d="M704.5,95.7 706.3,98.5 716.8,98.5 721.5,96.6" stroke="#505050" stroke-width="2" fill="none" stroke-linejoin="round" stroke-linecap="round"/>
<path d="M723.0,38.9 727.2,38.3 733.4,29.1 739.5,33.4 742.6,44.4 745.6,38.9 756.6,37.0 759.1,47.5" stroke="#1a1a5a" stroke-width="2" fill="none" stroke-linejoin="round" stroke-linecap="round"/>
<path d="M724.8,38.9 741.9,44.4" stroke="#e08060" stroke-width="1.3" fill="none" stroke-linejoin="round" stroke-linecap="round"/>
<path d="M753.6,21.7 760.3,24.8 767.1,21.7" stroke="#1a1a5a" stroke-width="2" fill="none" stroke-linejoin="round" stroke-linecap="round"/>
<path d="M760.3,24.8 761.5,27.2" stroke="#1a1a5a" stroke-width="2" fill="none" stroke-linejoin="round" stroke-linecap="round"/>
<path d="M761.5,26.6 764.0,30.9 768.9,36.4" stroke="#e08060" stroke-width="1.3" fill="none" stroke-linejoin="round" stroke-linecap="round"/>
<path d="M770.7,29.1 778.7,27.9 773.8,30.3 778.1,34.0 773.2,37.0 772.6,40.1 773.2,43.8 778.7,45.6" stroke="#505050" stroke-width="2" fill="none" stroke-linejoin="round" stroke-linecap="round"/>
<path d="M768.9,37.0 773.2,37.0" stroke="#505050" stroke-width="2" fill="none" stroke-linejoin="round" stroke-linecap="round"/>
<path d="M721.7,53.0 726.6,58.5 732.8,53.6 737.7,59.7 743.2,48.7" stroke="#1a1a5a" stroke-width="2" fill="none" stroke-linejoin="round" stroke-linecap="round"/>
<path d="M725.1,68.0 730.4,65.3 732.5,70.1 730.9,73.2 738.8,69.0" stroke="#a030b0" stroke-width="1.6" fill="none" stroke-linejoin="round" stroke-linecap="round"/>
<path d="M733.4,54.2 728.5,67.7" stroke="#e08060" stroke-width="1.3" fill="none" stroke-linejoin="round" stroke-linecap="round"/>
<path d="M757.9,54.8 754.2,60.3 752.1,66.4 747.9,71.7 745.7,79.1" stroke="#8a6030" stroke-width="2.5" fill="none" stroke-linejoin="round" stroke-linecap="round"/>
<path d="M754.6,72.2 755.2,79.6 759.0,73.2 759.2,77.0 755.5,77.5 762.0,73.5 764.5,79.0 761.5,79.3 766.0,74.0 768.5,79.5 771.0,73.5 773.0,79.2 777.5,79.7" stroke="#a030b0" stroke-width="2.2" fill="none" stroke-linejoin="round" stroke-linecap="round"/>
<path d="M765.2,51.1 766.4,56.6 763.4,64.0" stroke="#1a1a5a" stroke-width="1.4" fill="none" stroke-linejoin="round" stroke-linecap="round"/>
<path d="M769.5,56.6 773.8,60.3 777.5,62.2 786.6,62.2" stroke="#505050" stroke-width="2" fill="none" stroke-linejoin="round" stroke-linecap="round"/>
<path d="M728.8,91.3 728.8,78.5 740.4,80.1 736.2,85.4 743.6,91.3 739.9,98.2" stroke="#1a1a5a" stroke-width="2.2" fill="none" stroke-linejoin="round" stroke-linecap="round"/>
<path d="M748.9,84.9 757.4,90.2 761.6,93.9 771.2,97.6" stroke="#1a1a5a" stroke-width="2" fill="none" stroke-linejoin="round" stroke-linecap="round"/>
<path d="M774.4,94.4 780.7,91.3 781.8,86.5 783.9,82.3 789.2,79.6 790.3,72.7 790.3,70.6 794.5,70.1" stroke="#1a1a5a" stroke-width="1.8" fill="none" stroke-linejoin="round" stroke-linecap="round"/>
<path d="M731.9,220.9 L742.1,220.9 L742.1,264.9 L746.7,264.9 L736.9,275.2 L726.8,264.9 L731.9,264.9 Z" fill="#000"/>
<defs>
<linearGradient id="scr" x1="0" y1="0" x2="0" y2="1">
<stop offset="0" stop-color="#5279ad"/><stop offset="0.55" stop-color="#2d5994"/><stop offset="1" stop-color="#1e5aaa"/></linearGradient>
<radialGradient id="vig" cx="0.5" cy="0.55" r="0.75"><stop offset="0.55" stop-color="#000820" stop-opacity="0"/><stop offset="1" stop-color="#000820" stop-opacity="0.55"/></radialGradient>
<linearGradient id="scr2" x1="0" y1="0" x2="0" y2="1">
<stop offset="0" stop-color="#0a3272"/><stop offset="1" stop-color="#1856aa"/></linearGradient>
<linearGradient id="ctop" x1="0" y1="0" x2="0" y2="1">
<stop offset="0" stop-color="#2c2c2c"/><stop offset="1" stop-color="#101010"/></linearGradient>
<linearGradient id="cfront" x1="0" y1="0" x2="1" y2="0">
<stop offset="0" stop-color="#4a4a4a"/><stop offset="0.05" stop-color="#0a0a0a"/><stop offset="0.95" stop-color="#0a0a0a"/><stop offset="1" stop-color="#4a4a4a"/></linearGradient>
<radialGradient id="bead" cx="0.4" cy="0.35" r="0.7">
<stop offset="0" stop-color="#d8d8d8"/><stop offset="0.6" stop-color="#b0b0b0"/><stop offset="1" stop-color="#909090"/></radialGradient>
</defs>
<rect x="53.8" y="275.7" width="93.8" height="55.6" rx="2.5" fill="#0a0a0a"/>
<rect x="55.9" y="277.4" width="89.8" height="52.2" rx="1" fill="url(#scr)"/>
<path d="M55.9,309.5 L145.7,295 L145.7,329.6 L55.9,329.6 Z" fill="url(#scr2)"/>
<rect x="55.9" y="277.4" width="89.8" height="52.2" rx="1" fill="url(#vig)"/>
<path d="M63.7,336.1 L139.8,336.1 Q142.2,336.1 143,338.5 L145.6,347.3 L55.4,347.3 L58.2,338.5 Q59.2,336.1 63.7,336.1 Z" fill="url(#ctop)"/>
<rect x="85" y="336.8" width="33.6" height="7.8" rx="3.5" fill="#0c0c0c" stroke="#4a4a4a" stroke-width="0.6"/>
<rect x="91.8" y="330.5" width="21.2" height="8.2" fill="#060606"/>
<path d="M55.4,347.3 L145.6,347.3 L145.2,365.8 Q145,368 142.5,368 L58.5,368 Q56,368 55.8,365.8 Z" fill="url(#cfront)"/>
<line x1="56" y1="347.4" x2="145" y2="347.4" stroke="#3a3a3a" stroke-width="0.7"/>
<circle cx="65.6" cy="358.5" r="1.9" fill="none" stroke="#6cb030" stroke-width="1"/>
<line x1="75.6" y1="354" x2="75.6" y2="361" stroke="#8ab838" stroke-width="1.1" stroke-dasharray="1.6 0.8"/>
<path d="M60.1,371.7 L112.5,371.7 L108.8,394 L53.2,394 Z" fill="#0a0a0a"/>
<rect x="62.47" y="372.6" width="2.24" height="1.2" fill="#e2e2e2"/><rect x="65.31" y="372.6" width="2.24" height="1.2" fill="#e2e2e2"/><rect x="68.16" y="372.6" width="2.24" height="1.2" fill="#e2e2e2"/><rect x="71.00" y="372.6" width="2.24" height="1.2" fill="#e2e2e2"/><rect x="73.84" y="372.6" width="2.24" height="1.2" fill="#e2e2e2"/><rect x="76.69" y="372.6" width="2.24" height="1.2" fill="#e2e2e2"/><rect x="79.53" y="372.6" width="2.24" height="1.2" fill="#e2e2e2"/><rect x="82.37" y="372.6" width="2.24" height="1.2" fill="#e2e2e2"/><rect x="85.21" y="372.6" width="2.24" height="1.2" fill="#e2e2e2"/><rect x="88.06" y="372.6" width="2.24" height="1.2" fill="#e2e2e2"/><rect x="90.90" y="372.6" width="2.24" height="1.2" fill="#e2e2e2"/><rect x="93.74" y="372.6" width="2.24" height="1.2" fill="#e2e2e2"/><rect x="96.59" y="372.6" width="2.24" height="1.2" fill="#e2e2e2"/><rect x="99.43" y="372.6" width="2.24" height="1.2" fill="#e2e2e2"/><rect x="102.27" y="372.6" width="2.24" height="1.2" fill="#e2e2e2"/><rect x="105.11" y="372.6" width="2.24" height="1.2" fill="#e2e2e2"/><rect x="107.96" y="372.6" width="2.24" height="1.2" fill="#e2e2e2"/><rect x="61.79" y="374.8" width="2.44" height="2.2" fill="#e2e2e2"/><rect x="64.83" y="374.8" width="2.44" height="2.2" fill="#e2e2e2"/><rect x="67.87" y="374.8" width="2.44" height="2.2" fill="#e2e2e2"/><rect x="70.91" y="374.8" width="2.44" height="2.2" fill="#e2e2e2"/><rect x="73.95" y="374.8" width="2.44" height="2.2" fill="#e2e2e2"/><rect x="76.99" y="374.8" width="2.44" height="2.2" fill="#e2e2e2"/><rect x="80.03" y="374.8" width="2.44" height="2.2" fill="#e2e2e2"/><rect x="83.07" y="374.8" width="2.44" height="2.2" fill="#e2e2e2"/><rect x="86.11" y="374.8" width="2.44" height="2.2" fill="#e2e2e2"/><rect x="89.15" y="374.8" width="2.44" height="2.2" fill="#e2e2e2"/><rect x="92.19" y="374.8" width="2.44" height="2.2" fill="#e2e2e2"/><rect x="95.23" y="374.8" width="2.44" height="2.2" fill="#e2e2e2"/><rect x="98.27" y="374.8" width="2.44" height="2.2" fill="#e2e2e2"/><rect x="101.31" y="374.8" width="2.44" height="2.2" fill="#e2e2e2"/><rect x="104.36" y="374.8" width="2.44" height="2.2" fill="#e2e2e2"/><rect x="107.40" y="374.8" width="2.44" height="2.2" fill="#e2e2e2"/><rect x="60.83" y="377.9" width="2.47" height="2.0" fill="#e2e2e2"/><rect x="63.90" y="377.9" width="2.47" height="2.0" fill="#e2e2e2"/><rect x="66.97" y="377.9" width="2.47" height="2.0" fill="#e2e2e2"/><rect x="70.04" y="377.9" width="2.47" height="2.0" fill="#e2e2e2"/><rect x="73.10" y="377.9" width="2.47" height="2.0" fill="#e2e2e2"/><rect x="76.17" y="377.9" width="2.47" height="2.0" fill="#e2e2e2"/><rect x="79.24" y="377.9" width="2.47" height="2.0" fill="#e2e2e2"/><rect x="82.31" y="377.9" width="2.47" height="2.0" fill="#e2e2e2"/><rect x="85.38" y="377.9" width="2.47" height="2.0" fill="#e2e2e2"/><rect x="88.44" y="377.9" width="2.47" height="2.0" fill="#e2e2e2"/><rect x="91.51" y="377.9" width="2.47" height="2.0" fill="#e2e2e2"/><rect x="94.58" y="377.9" width="2.47" height="2.0" fill="#e2e2e2"/><rect x="97.65" y="377.9" width="2.47" height="2.0" fill="#e2e2e2"/><rect x="100.72" y="377.9" width="2.47" height="2.0" fill="#e2e2e2"/><rect x="103.79" y="377.9" width="2.47" height="2.0" fill="#e2e2e2"/><rect x="106.85" y="377.9" width="2.47" height="2.0" fill="#e2e2e2"/><rect x="59.90" y="380.9" width="2.50" height="2.0" fill="#e2e2e2"/><rect x="63.00" y="380.9" width="2.50" height="2.0" fill="#e2e2e2"/><rect x="66.09" y="380.9" width="2.50" height="2.0" fill="#e2e2e2"/><rect x="69.19" y="380.9" width="2.50" height="2.0" fill="#e2e2e2"/><rect x="72.28" y="380.9" width="2.50" height="2.0" fill="#e2e2e2"/><rect x="75.38" y="380.9" width="2.50" height="2.0" fill="#e2e2e2"/><rect x="78.47" y="380.9" width="2.50" height="2.0" fill="#e2e2e2"/><rect x="81.57" y="380.9" width="2.50" height="2.0" fill="#e2e2e2"/><rect x="84.66" y="380.9" width="2.50" height="2.0" fill="#e2e2e2"/><rect x="87.76" y="380.9" width="2.50" height="2.0" fill="#e2e2e2"/><rect x="90.85" y="380.9" width="2.50" height="2.0" fill="#e2e2e2"/><rect x="93.95" y="380.9" width="2.50" height="2.0" fill="#e2e2e2"/><rect x="97.04" y="380.9" width="2.50" height="2.0" fill="#e2e2e2"/><rect x="100.14" y="380.9" width="2.50" height="2.0" fill="#e2e2e2"/><rect x="103.23" y="380.9" width="2.50" height="2.0" fill="#e2e2e2"/><rect x="106.33" y="380.9" width="2.50" height="2.0" fill="#e2e2e2"/><rect x="58.98" y="383.9" width="2.52" height="2.0" fill="#e2e2e2"/><rect x="62.10" y="383.9" width="2.52" height="2.0" fill="#e2e2e2"/><rect x="65.22" y="383.9" width="2.52" height="2.0" fill="#e2e2e2"/><rect x="68.34" y="383.9" width="2.52" height="2.0" fill="#e2e2e2"/><rect x="71.46" y="383.9" width="2.52" height="2.0" fill="#e2e2e2"/><rect x="74.58" y="383.9" width="2.52" height="2.0" fill="#e2e2e2"/><rect x="77.71" y="383.9" width="2.52" height="2.0" fill="#e2e2e2"/><rect x="80.83" y="383.9" width="2.52" height="2.0" fill="#e2e2e2"/><rect x="83.95" y="383.9" width="2.52" height="2.0" fill="#e2e2e2"/><rect x="87.07" y="383.9" width="2.52" height="2.0" fill="#e2e2e2"/><rect x="90.19" y="383.9" width="2.52" height="2.0" fill="#e2e2e2"/><rect x="93.32" y="383.9" width="2.52" height="2.0" fill="#e2e2e2"/><rect x="96.44" y="383.9" width="2.52" height="2.0" fill="#e2e2e2"/><rect x="99.56" y="383.9" width="2.52" height="2.0" fill="#e2e2e2"/><rect x="102.68" y="383.9" width="2.52" height="2.0" fill="#e2e2e2"/><rect x="105.80" y="383.9" width="2.52" height="2.0" fill="#e2e2e2"/><rect x="58.05" y="386.9" width="2.55" height="2.1" fill="#e2e2e2"/><rect x="61.20" y="386.9" width="2.55" height="2.1" fill="#e2e2e2"/><rect x="64.34" y="386.9" width="2.55" height="2.1" fill="#e2e2e2"/><rect x="67.49" y="386.9" width="2.55" height="2.1" fill="#e2e2e2"/><rect x="92.68" y="386.9" width="2.55" height="2.1" fill="#e2e2e2"/><rect x="95.83" y="386.9" width="2.55" height="2.1" fill="#e2e2e2"/><rect x="98.98" y="386.9" width="2.55" height="2.1" fill="#e2e2e2"/><rect x="102.13" y="386.9" width="2.55" height="2.1" fill="#e2e2e2"/><rect x="105.28" y="386.9" width="2.55" height="2.1" fill="#e2e2e2"/><rect x="70.64" y="386.9" width="21.44" height="2.1" fill="#e2e2e2"/>
<ellipse cx="124.7" cy="383.6" rx="5.3" ry="8.3" transform="rotate(-42 124.7 383.6)" fill="#111"/>
<circle cx="125.8" cy="380.7" r="0.9" fill="#8ab040"/>
<circle cx="701.4" cy="248.7" r="12.2" fill="url(#bead)"/>
<path d="M701.4,236.5 L701.4,226.4 M692.5,221.4 L701.4,226.4 L710.9,221.4" stroke="#333" stroke-width="1" fill="none"/>
<path d="M674.5,309.5 678.0,314.0 681.1,317.5 690.6,324.5" stroke="#8a6030" stroke-width="2.3" fill="none" stroke-linejoin="round" stroke-linecap="round"/>
<path d="M670.0,322.5 676.0,319.5 680.5,317.5" stroke="#e08060" stroke-width="1.3" fill="none" stroke-linejoin="round" stroke-linecap="round"/>
<path d="M660.0,323.5 667.0,319.0 668.5,321.5 669.5,332.1 675.0,327.1 679.5,325.6 681.6,328.1 682.1,337.1 689.1,332.6" stroke="#a030b0" stroke-width="2" fill="none" stroke-linejoin="round" stroke-linecap="round"/>
<path d="M710.2,320.1 716.2,312.1 721.2,314.1 725.2,325.1 730.2,320.1 742.3,319.1 744.3,330.1" stroke="#1a1a5a" stroke-width="2" fill="none" stroke-linejoin="round" stroke-linecap="round"/>
<path d="M704.6,321.3 705.2,322.3" stroke="#1a1a5a" stroke-width="2.2" fill="none" stroke-linejoin="round" stroke-linecap="round"/>
<path d="M704.2,336.1 708.2,341.1 714.2,336.1 719.2,343.1 725.2,331.1" stroke="#1a1a5a" stroke-width="2" fill="none" stroke-linejoin="round" stroke-linecap="round"/>
<path d="M711.0,338.0 713.0,348.0" stroke="#e08060" stroke-width="1.3" fill="none" stroke-linejoin="round" stroke-linecap="round"/>
<path d="M707.2,350.2 712.2,348.2 714.2,354.2 720.2,351.2" stroke="#a030b0" stroke-width="1.6" fill="none" stroke-linejoin="round" stroke-linecap="round"/>
<path d="M687.1,344.2 694.1,348.2 701.1,352.2 704.2,363.2" stroke="#8a6030" stroke-width="2.4" fill="none" stroke-linejoin="round" stroke-linecap="round"/>
<path d="M693.0,356.0 700.0,353.0 701.1,352.2" stroke="#e08060" stroke-width="1.3" fill="none" stroke-linejoin="round" stroke-linecap="round"/>
<path d="M680.1,354.2 687.1,357.2 683.1,362.2 682.1,368.2 689.1,370.2 694.1,376.2" stroke="#a030b0" stroke-width="2" fill="none" stroke-linejoin="round" stroke-linecap="round"/>
<path d="M738.2,304.0 747.3,308.0 753.3,305.0" stroke="#1a1a5a" stroke-width="2" fill="none" stroke-linejoin="round" stroke-linecap="round"/>
<path d="M747.3,308.0 748.3,310.0" stroke="#1a1a5a" stroke-width="2" fill="none" stroke-linejoin="round" stroke-linecap="round"/>
<path d="M748.3,310.0 752.3,316.1 756.3,320.1" stroke="#e08060" stroke-width="1.3" fill="none" stroke-linejoin="round" stroke-linecap="round"/>
<path d="M757.3,311.1 766.3,310.1 760.3,313.1 764.3,317.1 759.3,320.1 758.3,324.1 765.3,327.1" stroke="#505050" stroke-width="2" fill="none" stroke-linejoin="round" stroke-linecap="round"/>
<path d="M754.0,319.5 759.3,320.1" stroke="#505050" stroke-width="2" fill="none" stroke-linejoin="round" stroke-linecap="round"/>
<path d="M738.2,335.1 752.3,344.2" stroke="#e08060" stroke-width="1.3" fill="none" stroke-linejoin="round" stroke-linecap="round"/>
<path d="M751.3,363.2 750.3,354.2 754.3,348.2 761.3,346.2 770.3,340.1 778.4,345.2" stroke="#a030b0" stroke-width="2" fill="none" stroke-linejoin="round" stroke-linecap="round"/>
<path d="M591,328.5 L546.7,328.5 L546.7,323.8 L536.7,333.3 L546.7,342.8 L546.7,338.1 L591,338.1 Z" fill="#000"/>
<path d="M250.9,328.4 L206.7,328.4 L206.7,323.7 L196.7,333.2 L206.7,342.7 L206.7,338.0 L250.9,338.0 Z" fill="#000"/>
<rect x="320.5" y="299.5" width="166" height="94.5" fill="#fff" stroke="#000" stroke-width="1"/>
<line x1="335.6" y1="360" x2="335.6" y2="394.5" stroke="#000" stroke-width="1.4"/>
<line x1="344.5" y1="360" x2="344.5" y2="394.5" stroke="#000" stroke-width="1.4"/>
<line x1="358.2" y1="360" x2="358.2" y2="394.5" stroke="#000" stroke-width="1.4"/>
<line x1="371.9" y1="384.3" x2="371.9" y2="394.5" stroke="#000" stroke-width="1.4"/>
<line x1="380.4" y1="360" x2="380.4" y2="394.5" stroke="#000" stroke-width="1.4"/>
<line x1="389.7" y1="360" x2="389.7" y2="394.5" stroke="#000" stroke-width="1.4"/>
<line x1="407.6" y1="372.8" x2="407.6" y2="394.5" stroke="#000" stroke-width="1.4"/>
<line x1="413.8" y1="383.8" x2="413.8" y2="394.5" stroke="#000" stroke-width="1.4"/>
<line x1="421.3" y1="360" x2="421.3" y2="394.5" stroke="#000" stroke-width="1.4"/>
<line x1="429.9" y1="360" x2="429.9" y2="394.5" stroke="#000" stroke-width="1.4"/>
<line x1="448.1" y1="383.8" x2="448.1" y2="394.5" stroke="#000" stroke-width="1.4"/>
<line x1="452.3" y1="360" x2="452.3" y2="394.5" stroke="#000" stroke-width="1.4"/>
<line x1="475.1" y1="344" x2="475.1" y2="394.5" stroke="#000" stroke-width="1.4"/>
<text x="463.5" y="318" font-family="Liberation Sans" font-weight="bold" font-size="13.2">MS</text>
<rect x="294.5" y="274.5" width="165" height="94.5" fill="#fff" stroke="#000" stroke-width="1"/>
<line x1="305.2" y1="360" x2="305.2" y2="369" stroke="#000" stroke-width="1.4"/>
<line x1="309.8" y1="320" x2="309.8" y2="369" stroke="#000" stroke-width="1.4"/>
<line x1="318.4" y1="336.6" x2="318.4" y2="369" stroke="#000" stroke-width="1.4"/>
<line x1="332.2" y1="320" x2="332.2" y2="369" stroke="#000" stroke-width="1.4"/>
<line x1="341.4" y1="284" x2="341.4" y2="369" stroke="#000" stroke-width="1.4"/>
<line x1="354.3" y1="320" x2="354.3" y2="369" stroke="#000" stroke-width="1.4"/>
<line x1="372.2" y1="358.9" x2="372.2" y2="369" stroke="#000" stroke-width="1.4"/>
<line x1="381.6" y1="348" x2="381.6" y2="369" stroke="#000" stroke-width="1.4"/>
<line x1="386" y1="299.2" x2="386" y2="369" stroke="#000" stroke-width="1.4"/>
<line x1="404" y1="336.5" x2="404" y2="369" stroke="#000" stroke-width="1.4"/>
<line x1="408.1" y1="299.2" x2="408.1" y2="369" stroke="#000" stroke-width="1.4"/>
<line x1="426.3" y1="308.2" x2="426.3" y2="369" stroke="#000" stroke-width="1.4"/>
<line x1="433.3" y1="358.8" x2="433.3" y2="369" stroke="#000" stroke-width="1.4"/>
<line x1="448.6" y1="319.9" x2="448.6" y2="369" stroke="#000" stroke-width="1.4"/>
<text x="415.8" y="293.2" font-family="Liberation Sans" font-weight="bold" font-size="13.2">MS/MS</text>
</svg>
<svg class="tx" width="802" height="449" viewBox="0 0 802 449">
<g font-family="Liberation Sans" font-size="20.5" fill="#111" stroke="#111" stroke-width="0.3">
<text x="52.5" y="163" text-anchor="middle">Protein</text>
<text x="52.5" y="187.7" text-anchor="middle">complex</text>
<text x="286.2" y="163" text-anchor="middle">Cross-linking</text>
<text x="286.2" y="187.7" text-anchor="middle">reaction</text>
<text x="505.7" y="163" text-anchor="middle">Cross-linked</text>
<text x="505.7" y="187.7" text-anchor="middle">proteins isolation</text>
<text x="730.3" y="163" text-anchor="middle">Protein</text>
<text x="730.3" y="187.7" text-anchor="middle">digestion</text>
<text x="702.3" y="414" text-anchor="middle">Cross-linked</text>
<text x="702.3" y="437.6" text-anchor="middle">peptide enrichment</text>
<text x="92" y="441.4" text-anchor="middle">Data processing</text>
<text x="397.6" y="441.4" text-anchor="middle">MS analysis</text>
</g>
</svg>
</body></html>
